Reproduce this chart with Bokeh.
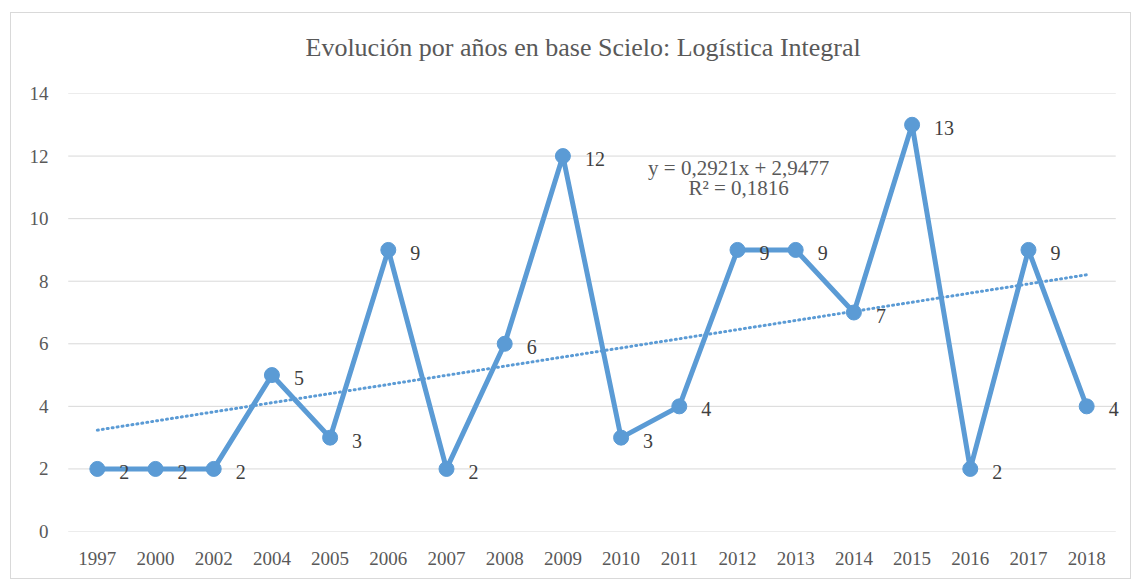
from bokeh.plotting import figure
from bokeh.models import Range1d, FactorRange, Label, LabelSet, ColumnDataSource, Title
from bokeh.embed import file_html
from bokeh.resources import INLINE

# ---- data ----
years = ["1997", "2000", "2002", "2004", "2005", "2006", "2007", "2008", "2009",
         "2010", "2011", "2012", "2013", "2014", "2015", "2016", "2017", "2018"]
counts = [2, 2, 2, 5, 3, 9, 2, 6, 12, 3, 4, 9, 9, 7, 13, 2, 9, 4]
trend_slope = 0.2921
trend_intercept = 2.9477
trend_eq = "y = 0,2921x + 2,9477"
trend_r2 = "R² = 0,1816"
title_text = "Evolución por años en base  Scielo: Logística Integral"
y_ticks = [0, 2, 4, 6, 8, 10, 12, 14]

BLUE = "#5B9BD5"
GREY = "#595959"
FONT = "Liberation Serif"

p = figure(width=1121, height=567, output_backend="svg", toolbar_location=None,
           x_range=FactorRange(*years, range_padding=0.15, range_padding_units="absolute"),
           y_range=Range1d(0, 14),
           min_border_left=48, min_border_right=8, min_border_top=80, min_border_bottom=49,
           background_fill_color="white", border_fill_color="white",
           outline_line_color=None)
p.styles = {"border": "1px solid #d9d9d9", "margin-left": "10px", "margin-top": "12px"}

p.title.text = title_text
p.title.align = "left"
p.title.offset = 246
p.title.standoff = 0
p.title.text_font = FONT
p.title.text_font_size = "26px"
p.title.text_font_style = "normal"
p.title.text_color = GREY

# spacer between the title and the plot frame
p.add_layout(Title(text=" ", text_font_size="1px", standoff=29), "above")

# axes
for ax in (p.xaxis, p.yaxis):
    ax.axis_line_color = None
    ax.major_tick_line_color = None
    ax.minor_tick_line_color = None
    ax.major_label_text_font = FONT
    ax.major_label_text_font_size = "19px"
    ax.major_label_text_color = GREY
p.yaxis.ticker = y_ticks
p.yaxis.major_label_standoff = 5
p.xaxis.major_label_standoff = 14
p.xgrid.grid_line_color = None
p.ygrid.grid_line_color = None

# horizontal gridlines spanning the category bands
n = len(years)
p.segment(x0=[0] * len(y_ticks), x1=[n] * len(y_ticks), y0=y_ticks, y1=y_ticks,
          line_color="#d9d9d9", line_width=1)

src = ColumnDataSource(dict(x=years, y=counts, lbl=[str(c) for c in counts]))

# trendline
tx = [i + 0.5 for i in range(n)]
ty = [trend_slope * (i + 1) + trend_intercept for i in range(n)]
p.line(tx, ty, line_color=BLUE, line_width=3, line_dash="1 4", line_cap="round")

# series
p.line("x", "y", source=src, line_color=BLUE, line_width=5, line_join="round")
p.scatter("x", "y", source=src, size=15, fill_color=BLUE, line_color=BLUE)

p.add_layout(LabelSet(x="x", y="y", text="lbl", source=src, x_offset=22, y_offset=-3,
                      text_font=FONT, text_font_size="20px", text_color="#404040",
                      text_baseline="middle", text_align="left"))

# trend equation
p.add_layout(Label(x=11.52, y=11.62, text=trend_eq, text_align="center", text_baseline="middle",
                   text_font=FONT, text_font_size="21px", text_color=GREY))
p.add_layout(Label(x=11.52, y=10.98, text=trend_r2, text_align="center", text_baseline="middle",
                   text_font=FONT, text_font_size="21px", text_color=GREY))

open("out.html", "w").write(file_html(p, INLINE))
